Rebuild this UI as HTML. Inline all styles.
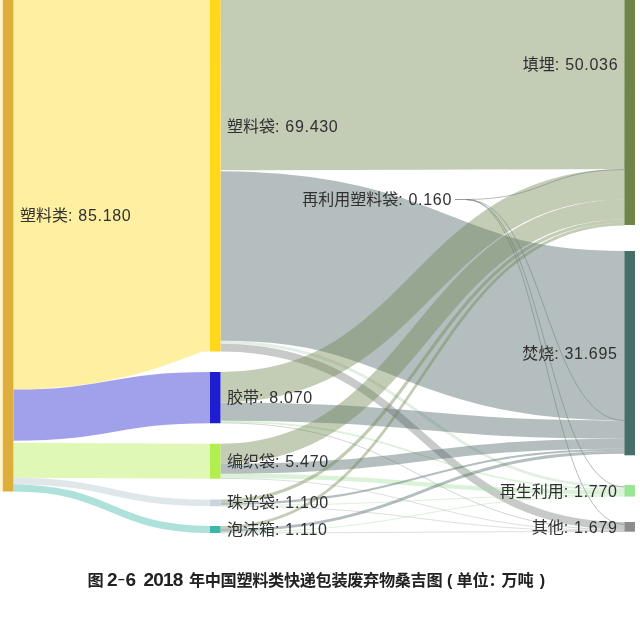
<!DOCTYPE html>
<html lang="zh"><head><meta charset="utf-8"><title>桑吉图</title>
<style>
html,body{margin:0;padding:0;background:#fff;}
body{width:640px;height:621px;overflow:hidden;position:relative;font-family:"Liberation Sans","Noto Sans CJK SC",sans-serif;}
svg{position:absolute;left:0;top:0;display:block}
svg .lk path{fill:none}
svg .soft{filter:blur(0.45px)}
svg .softt{filter:blur(0.3px)}
svg text{font-family:"Liberation Sans","Noto Sans CJK SC",sans-serif;font-size:16px;fill:#303030}
svg .cap text{font-weight:bold;font-size:16.2px;fill:#222}
svg .cap .d{font-size:19px;letter-spacing:-0.85px}
svg .cap .ds{font-size:12px}
svg .cap .cj{letter-spacing:-0.35px}
svg text .la{letter-spacing:0.7px}
</style></head><body>
<svg width="640" height="621" viewBox="0 0 640 621">
<g class="soft"><g class="lk">
<path d="M13.40,169.06C111.70,169.06 111.70,131.06 210.00,131.06" stroke="#FFD81C" stroke-width="440.88" stroke-opacity="0.42"/>
<path d="M13.40,415.13C111.70,415.13 111.70,397.62 210.00,397.62" stroke="#1E1ED0" stroke-width="51.25" stroke-opacity="0.42"/>
<path d="M13.40,460.25C111.70,460.25 111.70,461.25 210.00,461.25" stroke="#B2EE4E" stroke-width="35.00" stroke-opacity="0.42"/>
<path d="M13.40,481.13C111.70,481.13 111.70,502.88 210.00,502.88" stroke="#B2C5CF" stroke-width="6.75" stroke-opacity="0.42"/>
<path d="M13.40,488.00C111.70,488.00 111.70,529.50 210.00,529.50" stroke="#3CB8A8" stroke-width="7.00" stroke-opacity="0.42"/>
<path d="M220.50,40.46C422.45,40.46 422.45,39.16 624.40,39.16" stroke="#70864F" stroke-width="259.68" stroke-opacity="0.42"/>
<path d="M220.50,170.80C337.75,170.80 337.75,199.50 455.00,199.50" stroke="#ffffff" stroke-width="1.00" stroke-opacity="0.55"/>
<path d="M220.50,256.05C422.45,256.05 422.45,335.75 624.40,335.75" stroke="#4D6366" stroke-width="169.50" stroke-opacity="0.42"/>
<path d="M220.50,342.25C422.45,342.25 422.45,487.00 624.40,487.00" stroke="#BCD6C2" stroke-width="2.90" stroke-opacity="0.42"/>
<path d="M220.50,347.60C422.45,347.60 422.45,525.80 624.40,525.80" stroke="#7c7f7e" stroke-width="7.80" stroke-opacity="0.42"/>
<path d="M220.50,387.25C422.45,387.25 422.45,184.25 624.40,184.25" stroke="#70864F" stroke-width="30.50" stroke-opacity="0.42"/>
<path d="M220.50,411.62C422.45,411.62 422.45,429.62 624.40,429.62" stroke="#4D6366" stroke-width="18.25" stroke-opacity="0.42"/>
<path d="M220.50,421.60C422.45,421.60 422.45,489.30 624.40,489.30" stroke="#A6DFA2" stroke-width="1.70" stroke-opacity="0.42"/>
<path d="M220.50,422.85C422.45,422.85 422.45,530.10 624.40,530.10" stroke="#7c7f7e" stroke-width="0.80" stroke-opacity="0.42"/>
<path d="M220.50,453.75C422.45,453.75 422.45,209.50 624.40,209.50" stroke="#70864F" stroke-width="20.00" stroke-opacity="0.42"/>
<path d="M220.50,468.73C422.45,468.73 422.45,443.73 624.40,443.73" stroke="#4D6366" stroke-width="9.95" stroke-opacity="0.42"/>
<path d="M220.50,475.93C422.45,475.93 422.45,492.38 624.40,492.38" stroke="#A6DFA2" stroke-width="4.45" stroke-opacity="0.42"/>
<path d="M220.50,478.45C422.45,478.45 422.45,530.80 624.40,530.80" stroke="#7c7f7e" stroke-width="0.60" stroke-opacity="0.42"/>
<path d="M220.50,501.15C422.45,501.15 422.45,221.15 624.40,221.15" stroke="#70864F" stroke-width="3.30" stroke-opacity="0.42"/>
<path d="M220.50,503.88C422.45,503.88 422.45,449.77 624.40,449.77" stroke="#4D6366" stroke-width="2.15" stroke-opacity="0.42"/>
<path d="M220.50,505.45C422.45,505.45 422.45,495.10 624.40,495.10" stroke="#A6DFA2" stroke-width="1.00" stroke-opacity="0.42"/>
<path d="M220.50,506.10C422.45,506.10 422.45,531.25 624.40,531.25" stroke="#7c7f7e" stroke-width="0.60" stroke-opacity="0.42"/>
<path d="M220.50,527.40C422.45,527.40 422.45,224.20 624.40,224.20" stroke="#70864F" stroke-width="2.80" stroke-opacity="0.42"/>
<path d="M220.50,530.25C422.45,530.25 422.45,452.30 624.40,452.30" stroke="#4D6366" stroke-width="2.90" stroke-opacity="0.42"/>
<path d="M220.50,532.20C422.45,532.20 422.45,496.10 624.40,496.10" stroke="#A6DFA2" stroke-width="1.00" stroke-opacity="0.42"/>
<path d="M220.50,532.85C422.45,532.85 422.45,531.55 624.40,531.55" stroke="#7c7f7e" stroke-width="0.60" stroke-opacity="0.42"/>
<path d="M466,199.5C545.2,199.5 545.2,169.6 624.4,169.6" stroke="#6f7a78" stroke-width="0.9" stroke-opacity="0.55"/>
<path d="M466,199.5C545.2,199.5 545.2,420.5 624.4,420.5" stroke="#6f7a78" stroke-width="0.9" stroke-opacity="0.55"/>
<path d="M466,199.5C545.2,199.5 545.2,487.0 624.4,487.0" stroke="#6f7a78" stroke-width="0.9" stroke-opacity="0.55"/>
<path d="M466,199.5C545.2,199.5 545.2,524.5 624.4,524.5" stroke="#6f7a78" stroke-width="0.9" stroke-opacity="0.55"/>
<path d="M455,199.5H466" stroke="#7d8584" stroke-width="1" stroke-opacity="0.8"/>
</g>
<g>
<rect x="0" y="-51.38" width="2.8" height="542.88" fill="#FFF4C8"/>
<rect x="2.8" y="-51.38" width="10.600000000000001" height="542.88" fill="#DDAE3C"/>
<rect x="210" y="-89.38" width="10.5" height="440.88" fill="#FFD81C"/>
<rect x="210" y="372.00" width="10.5" height="51.25" fill="#1E1ED0"/>
<rect x="210" y="443.75" width="10.5" height="35.00" fill="#B2EE4E"/>
<rect x="210" y="499.50" width="10.5" height="6.75" fill="#C9D4DE"/>
<rect x="210" y="526.00" width="10.5" height="7.00" fill="#3CB8A8"/>
<rect x="624.4" y="-92.73" width="10.600000000000023" height="317.73" fill="#6E8548"/>
<rect x="624.4" y="251.00" width="10.600000000000023" height="204.30" fill="#476E69"/>
<rect x="624.4" y="485.00" width="10.600000000000023" height="11.60" fill="#9AE695"/>
<rect x="624.4" y="522.00" width="10.600000000000023" height="9.70" fill="#8C8C8C"/>
</g></g>
<g class="softt">
<text x="20" y="221.4" text-anchor="start">塑料类<tspan class="la">: 85.180</tspan></text>
<text x="227" y="132.4" text-anchor="start">塑料袋<tspan class="la">: 69.430</tspan></text>
<text x="227" y="403.4" text-anchor="start">胶带<tspan class="la">: 8.070</tspan></text>
<text x="227" y="467.4" text-anchor="start">编织袋<tspan class="la">: 5.470</tspan></text>
<text x="227" y="508.4" text-anchor="start">珠光袋<tspan class="la">: 1.100</tspan></text>
<text x="227" y="535.4" text-anchor="start">泡沫箱<tspan class="la">: 1.110</tspan></text>
<text x="618.3" y="70.4" text-anchor="end">填埋<tspan class="la">: 50.036</tspan></text>
<text x="617.6" y="359.4" text-anchor="end">焚烧<tspan class="la">: 31.695</tspan></text>
<text x="617.6" y="497.4" text-anchor="end">再生利用<tspan class="la">: 1.770</tspan></text>
<text x="617.6" y="533.4" text-anchor="end">其他<tspan class="la">: 1.679</tspan></text>
<text x="452" y="205.4" text-anchor="end">再利用塑料袋<tspan class="la">: 0.160</tspan></text>
</g>
<g class="cap softt">
<text x="87.5" y="585.5"><tspan>图</tspan><tspan x="107.1" class="d">2</tspan><tspan x="117.9" dy="-2.6" class="ds">–</tspan><tspan x="125.4" dy="2.6" class="d">6</tspan><tspan x="143.6" class="d">2018</tspan><tspan x="188.9" class="cj">年中国塑料类快递包装废弃物桑吉图</tspan><tspan x="447.0">(</tspan><tspan x="456.6" class="cj">单位</tspan><tspan x="488.4">：</tspan><tspan x="501.6" class="cj">万吨</tspan><tspan x="539.8">)</tspan></text>
</g>
</svg>

</body></html>
